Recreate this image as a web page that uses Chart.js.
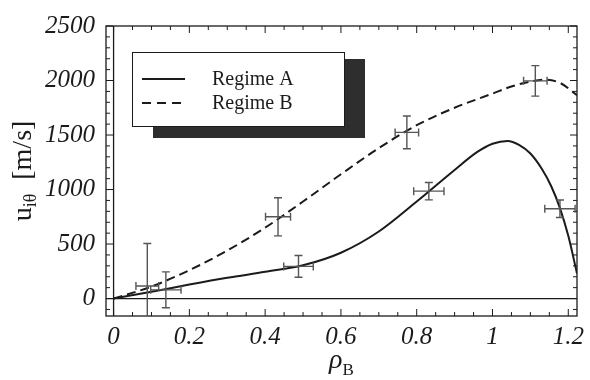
<!DOCTYPE html>
<html>
<head>
<meta charset="utf-8">
<script src="https://cdn.jsdelivr.net/npm/chart.js@4/dist/chart.umd.min.js"></script>
<style>
  html, body { margin: 0; padding: 0; background: #fff; }
  #wrap { width: 590px; height: 380px; }
</style>
</head>
<body>
<div id="wrap"><canvas id="uChart" width="590" height="380"></canvas></div>
<script>
// model curves
const curveAX = [0, 0.1, 0.2, 0.3, 0.4, 0.5, 0.6, 0.7, 0.8, 0.9, 0.96, 1.0, 1.04, 1.07, 1.1, 1.13, 1.155, 1.178, 1.2, 1.223];
const curveAY = [0, 62, 128, 190, 245, 305, 420, 615, 890, 1180, 1345, 1420, 1446, 1410, 1330, 1190, 1030, 830, 575, 230];
const curveBX = [0, 0.1, 0.2, 0.3, 0.4, 0.5, 0.6, 0.7, 0.8, 0.9, 1.0, 1.05, 1.1, 1.14, 1.18, 1.223];
const curveBY = [0, 110, 260, 440, 650, 890, 1140, 1380, 1590, 1750, 1880, 1945, 1990, 2007, 1975, 1865];

// measured points with error bars
const measAX = [0.138, 0.488, 0.832, 1.178];
const measAY = [80, 295, 985, 824];
const measAXErr = [0.04, 0.039, 0.04, 0.04];
const measAYErr = [165, 100, 80, 80];
const measBX = [0.089, 0.434, 0.774, 1.113];
const measBY = [115, 750, 1524, 1997];
const measBXErr = [0.03, 0.033, 0.031, 0.031];
const measBYErr = [390, 175, 150, 140];

const xTicks = [0, 0.2, 0.4, 0.6, 0.8, 1, 1.2];
const yTicks = [0, 500, 1000, 1500, 2000, 2500];
const seriesNames = ['Regime A', 'Regime B'];

const serif = '"Liberation Serif", "DejaVu Serif", serif';
const ink = '#1b1b1b';

const toXY = (xs, ys) => xs.map((x, i) => ({ x: x, y: ys[i] }));

// frame, zero lines and inward ticks (Mathematica style)
const framePlugin = {
  id: 'frame',
  beforeDatasetsDraw(chart) {
    const { ctx, chartArea: a, scales: { x, y } } = chart;
    ctx.save();
    ctx.strokeStyle = ink;
    ctx.lineWidth = 1.3;
    ctx.strokeRect(a.left, a.top, a.right - a.left, a.bottom - a.top);

    // axes through the origin
    const x0 = x.getPixelForValue(0);
    const y0 = y.getPixelForValue(0);
    ctx.beginPath();
    ctx.moveTo(x0, a.top); ctx.lineTo(x0, a.bottom);
    ctx.moveTo(a.left, y0); ctx.lineTo(a.right, y0);
    ctx.stroke();

    ctx.lineWidth = 1;
    ctx.beginPath();
    for (let v = -100; v <= 2500; v += 100) {
      const py = y.getPixelForValue(v);
      const len = v % 500 === 0 ? 7 : 4;
      ctx.moveTo(a.left, py); ctx.lineTo(a.left + len, py);
      ctx.moveTo(a.right, py); ctx.lineTo(a.right - len, py);
    }
    for (let i = 0; i <= 24; i++) {
      const v = i * 0.05;
      const px = x.getPixelForValue(v);
      const len = i % 4 === 0 ? 7 : 4;
      ctx.moveTo(px, a.bottom); ctx.lineTo(px, a.bottom - len);
      ctx.moveTo(px, a.top); ctx.lineTo(px, a.top + len);
    }
    ctx.stroke();
    ctx.restore();
  }
};

// error crosses, legend box and axis titles
const overlayPlugin = {
  id: 'overlay',
  afterDatasetsDraw(chart) {
    const { ctx, chartArea: a, scales: { x, y } } = chart;

    ctx.save();
    ctx.beginPath();
    ctx.rect(a.left, a.top, a.right - a.left, a.bottom - a.top);
    ctx.clip();
    ctx.strokeStyle = '#555';
    ctx.lineWidth = 1.4;
    const cap = 4;
    const drawSet = (xs, ys, xe, ye) => {
      xs.forEach((xv, i) => {
        const px = x.getPixelForValue(xv);
        const py = y.getPixelForValue(ys[i]);
        const x1 = x.getPixelForValue(xv - xe[i]);
        const x2 = x.getPixelForValue(xv + xe[i]);
        const y1 = y.getPixelForValue(ys[i] + ye[i]);
        const y2 = y.getPixelForValue(ys[i] - ye[i]);
        ctx.beginPath();
        ctx.moveTo(px, y1); ctx.lineTo(px, y2);
        ctx.moveTo(px - cap, y1); ctx.lineTo(px + cap, y1);
        ctx.moveTo(px - cap, y2); ctx.lineTo(px + cap, y2);
        ctx.moveTo(x1, py); ctx.lineTo(x2, py);
        ctx.moveTo(x1, py - cap); ctx.lineTo(x1, py + cap);
        ctx.moveTo(x2, py - cap); ctx.lineTo(x2, py + cap);
        ctx.stroke();
      });
    };
    drawSet(measAX, measAY, measAXErr, measAYErr);
    drawSet(measBX, measBY, measBXErr, measBYErr);
    ctx.restore();

    // legend with drop shadow
    ctx.save();
    ctx.fillStyle = '#2e2e2e';
    ctx.fillRect(153, 59, 212, 79);
    ctx.fillStyle = '#fff';
    ctx.fillRect(132, 52, 213, 75);
    ctx.strokeStyle = ink;
    ctx.lineWidth = 1;
    ctx.strokeRect(132.5, 52.5, 212, 74);
    ctx.lineWidth = 2;
    ctx.beginPath();
    ctx.moveTo(142, 79); ctx.lineTo(185, 79);
    ctx.stroke();
    ctx.setLineDash([9, 6]);
    ctx.beginPath();
    ctx.moveTo(142, 103); ctx.lineTo(185, 103);
    ctx.stroke();
    ctx.setLineDash([]);
    ctx.fillStyle = ink;
    ctx.font = '20px ' + serif;
    ctx.textBaseline = 'alphabetic';
    ctx.textAlign = 'left';
    ctx.fillText(seriesNames[0], 212, 85);
    ctx.fillText(seriesNames[1], 212, 109);
    ctx.restore();

    // y title: u_iθ [m/s]
    ctx.save();
    ctx.fillStyle = ink;
    ctx.textBaseline = 'alphabetic';
    ctx.textAlign = 'left';
    const big = '28px ' + serif;
    const small = '18px ' + serif;
    ctx.font = big;
    const wU = ctx.measureText('u').width;
    const wUnit = ctx.measureText('  [m/s]').width;
    ctx.font = small;
    const wSub = ctx.measureText('iθ').width;
    const total = wU + wSub + wUnit;
    ctx.translate(31, (a.top + a.bottom) / 2);
    ctx.rotate(-Math.PI / 2);
    let cx = -total / 2;
    ctx.font = big;
    ctx.fillText('u', cx, 0);
    cx += wU;
    ctx.font = small;
    ctx.fillText('iθ', cx, 5);
    cx += wSub;
    ctx.font = big;
    ctx.fillText('  [m/s]', cx, 0);
    ctx.restore();

    // x title: ρ_B
    ctx.save();
    ctx.fillStyle = ink;
    ctx.textBaseline = 'alphabetic';
    ctx.textAlign = 'left';
    const rhoFont = 'italic 28px ' + serif;
    const bFont = '17px ' + serif;
    ctx.font = rhoFont;
    const wR = ctx.measureText('ρ').width;
    ctx.font = bFont;
    const wB = ctx.measureText('B').width;
    let sx = (a.left + a.right) / 2 - (wR + wB) / 2;
    ctx.font = rhoFont;
    ctx.fillText('ρ', sx, 368);
    ctx.font = bFont;
    ctx.fillText('B', sx + wR, 375);
    ctx.restore();
  }
};

const tickFont = { family: serif, size: 25, style: 'italic', weight: 'normal' };

const ctx = document.getElementById('uChart').getContext('2d');
new Chart(ctx, {
  type: 'line',
  data: {
    datasets: [
      {
        label: seriesNames[0],
        data: toXY(curveAX, curveAY),
        borderColor: ink,
        borderWidth: 2,
        pointRadius: 0,
        cubicInterpolationMode: 'monotone',
        fill: false,
      },
      {
        label: seriesNames[1],
        data: toXY(curveBX, curveBY),
        borderColor: ink,
        borderWidth: 2,
        borderDash: [9, 5],
        pointRadius: 0,
        cubicInterpolationMode: 'monotone',
        fill: false,
      },
    ],
  },
  options: {
    responsive: false,
    animation: false,
    layout: { padding: { top: 19, right: 5, left: 0, bottom: 0 } },
    plugins: {
      legend: { display: false },
      tooltip: { enabled: false },
    },
    scales: {
      x: {
        type: 'linear',
        min: -0.02,
        max: 1.223,
        afterBuildTicks: (s) => { s.ticks = xTicks.map(v => ({ value: v })); },
        afterFit: (s) => { s.height = 64; },
        grid: { display: false, drawTicks: false },
        border: { display: false },
        ticks: {
          color: ink,
          padding: 6,
          maxRotation: 0,
          autoSkip: false,
          font: tickFont,
          callback: (v) => String(+Number(v).toFixed(1)),
        },
      },
      y: {
        type: 'linear',
        min: -160,
        max: 2500,
        afterBuildTicks: (s) => { s.ticks = yTicks.map(v => ({ value: v })); },
        afterFit: (s) => { s.width = 106; },
        grid: { display: false, drawTicks: false },
        border: { display: false },
        ticks: {
          color: ink,
          padding: 11,
          autoSkip: false,
          font: tickFont,
          callback: (v) => String(v),
        },
      },
    },
  },
  plugins: [framePlugin, overlayPlugin],
});
</script>
</body>
</html>
